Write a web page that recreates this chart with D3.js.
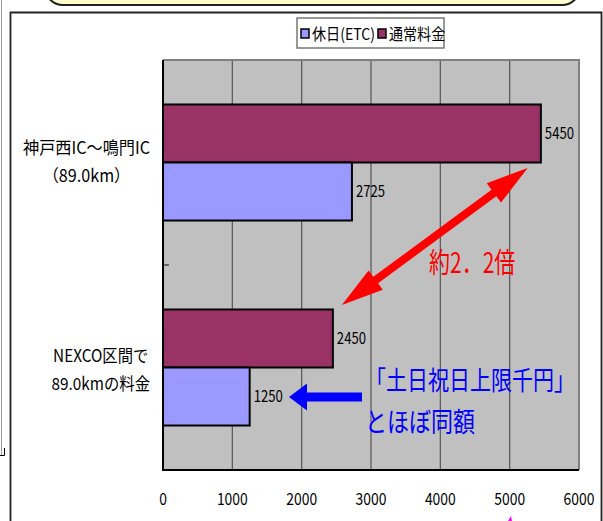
<!DOCTYPE html>
<html>
<head>
<meta charset="utf-8">
<script src="https://cdn.jsdelivr.net/npm/d3@7"></script>
<style>
  html, body { margin: 0; padding: 0; background: #fff; }
  svg { display: block; }
  text { font-family: "Liberation Sans Narrow", "Noto Sans CJK JP", sans-serif; fill: #000; }
</style>
</head>
<body>
<div id="chart"></div>
<script>
// data
const categories = ['cat1', 'cat2'];
const categoryLabels = [['神戸西IC～鳴門IC', '（89.0km）'], ['NEXCO区間で', '89.0kmの料金']];
const seriesNames = ['通常料金', '休日(ETC)'];
const legendOrder = ['休日(ETC)', '通常料金'];
const regularFee = [5450, 2450];
const holidayFee = [2725, 1250];
const xTicks = [0, 1000, 2000, 3000, 4000, 5000, 6000];

const colors = { '通常料金': '#993366', '休日(ETC)': '#9999ff' };

const width = 603, height = 521;
const plot = { left: 163, right: 579, top: 60, bottom: 470 };
const narrow = 0.82; // the original font is tall and narrow

const svg = d3.select('#chart').append('svg')
  .attr('width', width)
  .attr('height', height);

// decorations around the chart (slide frame bits)
svg.append('rect')
  .attr('x', 45).attr('y', -40).attr('width', 535).attr('height', 45).attr('rx', 18)
  .attr('fill', '#ffffcc').attr('stroke', '#222').attr('stroke-width', 2);
svg.append('path').attr('d', 'M1.5,0V456').attr('stroke', '#999').attr('fill', 'none');
svg.append('path').attr('d', 'M0,455.5H4.5V448').attr('stroke', '#000').attr('fill', 'none');
svg.append('path')
  .attr('d', 'M10.5,521V12.5H601.5V521')
  .attr('stroke', '#222').attr('stroke-width', 1.8).attr('fill', 'none');

// scales
const x = d3.scaleLinear().domain([0, 6000]).range([plot.left, plot.right]);
const yCat = d3.scaleBand().domain(categories).range([plot.top, plot.bottom]);
const ySub = d3.scaleBand().domain(seriesNames).range([0, yCat.bandwidth()]).paddingOuter(0.767);

// plot background
svg.append('rect')
  .attr('x', plot.left).attr('y', plot.top)
  .attr('width', plot.right - plot.left).attr('height', plot.bottom - plot.top)
  .attr('fill', '#c0c0c0');

// gridlines
svg.append('g').selectAll('line')
  .data(xTicks.slice(1, -1))
  .join('line')
  .attr('x1', d => x(d)).attr('x2', d => x(d))
  .attr('y1', plot.top).attr('y2', plot.bottom)
  .attr('stroke', '#555').attr('stroke-width', 1.2);

// top / right border of plot
svg.append('path')
  .attr('d', `M${plot.left},${plot.top}H${plot.right}V${plot.bottom}`)
  .attr('stroke', '#808080').attr('stroke-width', 2).attr('fill', 'none');

// category boundary ticks
svg.append('g').selectAll('line')
  .data(categories.slice(1))
  .join('line')
  .attr('x1', plot.left).attr('x2', plot.left + 6)
  .attr('y1', d => yCat(d)).attr('y2', d => yCat(d))
  .attr('stroke', '#666').attr('stroke-width', 2);

// bars
const rows = categories.map((c, i) => ({
  cat: c,
  values: [{ s: '通常料金', v: regularFee[i] }, { s: '休日(ETC)', v: holidayFee[i] }]
}));

const groups = svg.append('g').selectAll('g')
  .data(rows)
  .join('g')
  .attr('transform', d => `translate(0,${yCat(d.cat)})`);

groups.selectAll('rect')
  .data(d => d.values)
  .join('rect')
  .attr('x', x(0))
  .attr('y', d => ySub(d.s))
  .attr('width', d => x(d.v) - x(0))
  .attr('height', ySub.bandwidth())
  .attr('fill', d => colors[d.s])
  .attr('stroke', '#000')
  .attr('stroke-width', 2);

groups.selectAll('text')
  .data(d => d.values)
  .join('text')
  .attr('transform', d => `translate(${x(d.v) + 4},${ySub(d.s) + ySub.bandwidth() / 2}) scale(${narrow},1)`)
  .attr('dy', '0.35em')
  .style('font-size', '16px')
  .text(d => d.v);

// axes lines: left and bottom in black
svg.append('path')
  .attr('d', `M${plot.left},${plot.top}V${plot.bottom}H${plot.right}`)
  .attr('stroke', '#000').attr('stroke-width', 2).attr('fill', 'none');

// x tick labels
svg.append('g').selectAll('text')
  .data(xTicks)
  .join('text')
  .attr('transform', d => `translate(${x(d)},499) scale(${narrow},1)`)
  .attr('dy', '0.35em')
  .attr('text-anchor', 'middle')
  .style('font-size', '17px')
  .text(d => d);

// category labels (block right aligned, lines centered in block)
let catScale = null;
categories.forEach((c, i) => {
  const g = svg.append('g');
  const lines = categoryLabels[i];
  const t = g.selectAll('text')
    .data(lines)
    .join('text')
    .attr('dy', '0.35em')
    .attr('text-anchor', 'middle')
    .style('font-size', '17px')
    .text(d => d);
  let maxW = 0;
  t.each(function() { maxW = Math.max(maxW, this.getComputedTextLength()); });
  if (catScale === null) catScale = Math.min(1, 127 / maxW);
  const sx = i === 0 ? catScale : catScale * 0.95;
  t.attr('transform', (d, j) => {
    const y = yCat(c) + yCat.bandwidth() / 2 + (j - (lines.length - 1) / 2) * 28 + (i === 0 ? 0 : 3);
    return `translate(${150 - maxW * sx / 2},${y}) scale(${sx},1)`;
  });
});

// legend
const legend = svg.append('g');
legend.append('rect')
  .attr('x', 297).attr('y', 18).attr('width', 147).attr('height', 30)
  .attr('fill', '#fff').attr('stroke', '#777').attr('stroke-width', 1.5);
let lx = 301;
legendOrder.forEach(s => {
  legend.append('rect')
    .attr('x', lx).attr('y', 29).attr('width', 8).attr('height', 9)
    .attr('fill', colors[s]).attr('stroke', '#000').attr('stroke-width', 1.5);
  const t = legend.append('text')
    .attr('transform', `translate(${lx + 11},34) scale(0.88,1)`)
    .attr('dy', '0.35em')
    .style('font-size', '16px')
    .text(s);
  lx += 11 + t.node().getComputedTextLength() * 0.88 + 3;
});

// annotation arrows
function arrowPath(x1, y1, x2, y2, shaftHalf, headLen, headHalf, both) {
  const dx = x2 - x1, dy = y2 - y1, len = Math.hypot(dx, dy);
  const ux = dx / len, uy = dy / len, nx = -uy, ny = ux;
  const p = (a, b) => [x1 + ux * a + nx * b, y1 + uy * a + ny * b];
  const pts = [];
  if (both) {
    pts.push(p(0, 0), p(headLen, headHalf), p(headLen, shaftHalf));
  } else {
    pts.push(p(0, shaftHalf));
  }
  pts.push(p(len - headLen, shaftHalf), p(len - headLen, headHalf), p(len, 0),
    p(len - headLen, -headHalf), p(len - headLen, -shaftHalf));
  if (both) {
    pts.push(p(headLen, -shaftHalf), p(headLen, -headHalf));
  } else {
    pts.push(p(0, -shaftHalf));
  }
  return 'M' + pts.map(q => q.join(',')).join('L') + 'Z';
}

// red double arrow between the two regular fee bars
svg.append('path')
  .attr('d', arrowPath(x(2580), 305, x(5260), 168, 4, 42, 12, true))
  .attr('fill', '#ff0000');

svg.append('text')
  .attr('transform', 'translate(429,273) scale(1,1.35)')
  .style('font-size', '21px')
  .style('fill', '#ff0000')
  .style('font-family', '"Noto Sans CJK JP", sans-serif')
  .text('約2．2倍');

// blue arrow pointing at holiday fee label
svg.append('path')
  .attr('d', arrowPath(362, 397, 289, 397, 4.5, 18, 13.5, false))
  .attr('fill', '#0000ff');

svg.append('text')
  .attr('transform', 'translate(365,390) scale(1,1.25)')
  .style('font-size', '21px')
  .style('fill', '#0000ff')
  .style('font-family', '"Noto Sans CJK JP", sans-serif')
  .text('「土日祝日上限千円」');

svg.append('text')
  .attr('transform', 'translate(365,432) scale(1,1.25)')
  .style('font-size', '22px')
  .style('fill', '#0000ff')
  .style('font-family', '"Noto Sans CJK JP", sans-serif')
  .text('とほぼ同額');

// tiny magenta mark at bottom edge
svg.append('path').attr('d', 'M508,521L511,516L512,521Z').attr('fill', '#ff00ff');
</script>
</body>
</html>
